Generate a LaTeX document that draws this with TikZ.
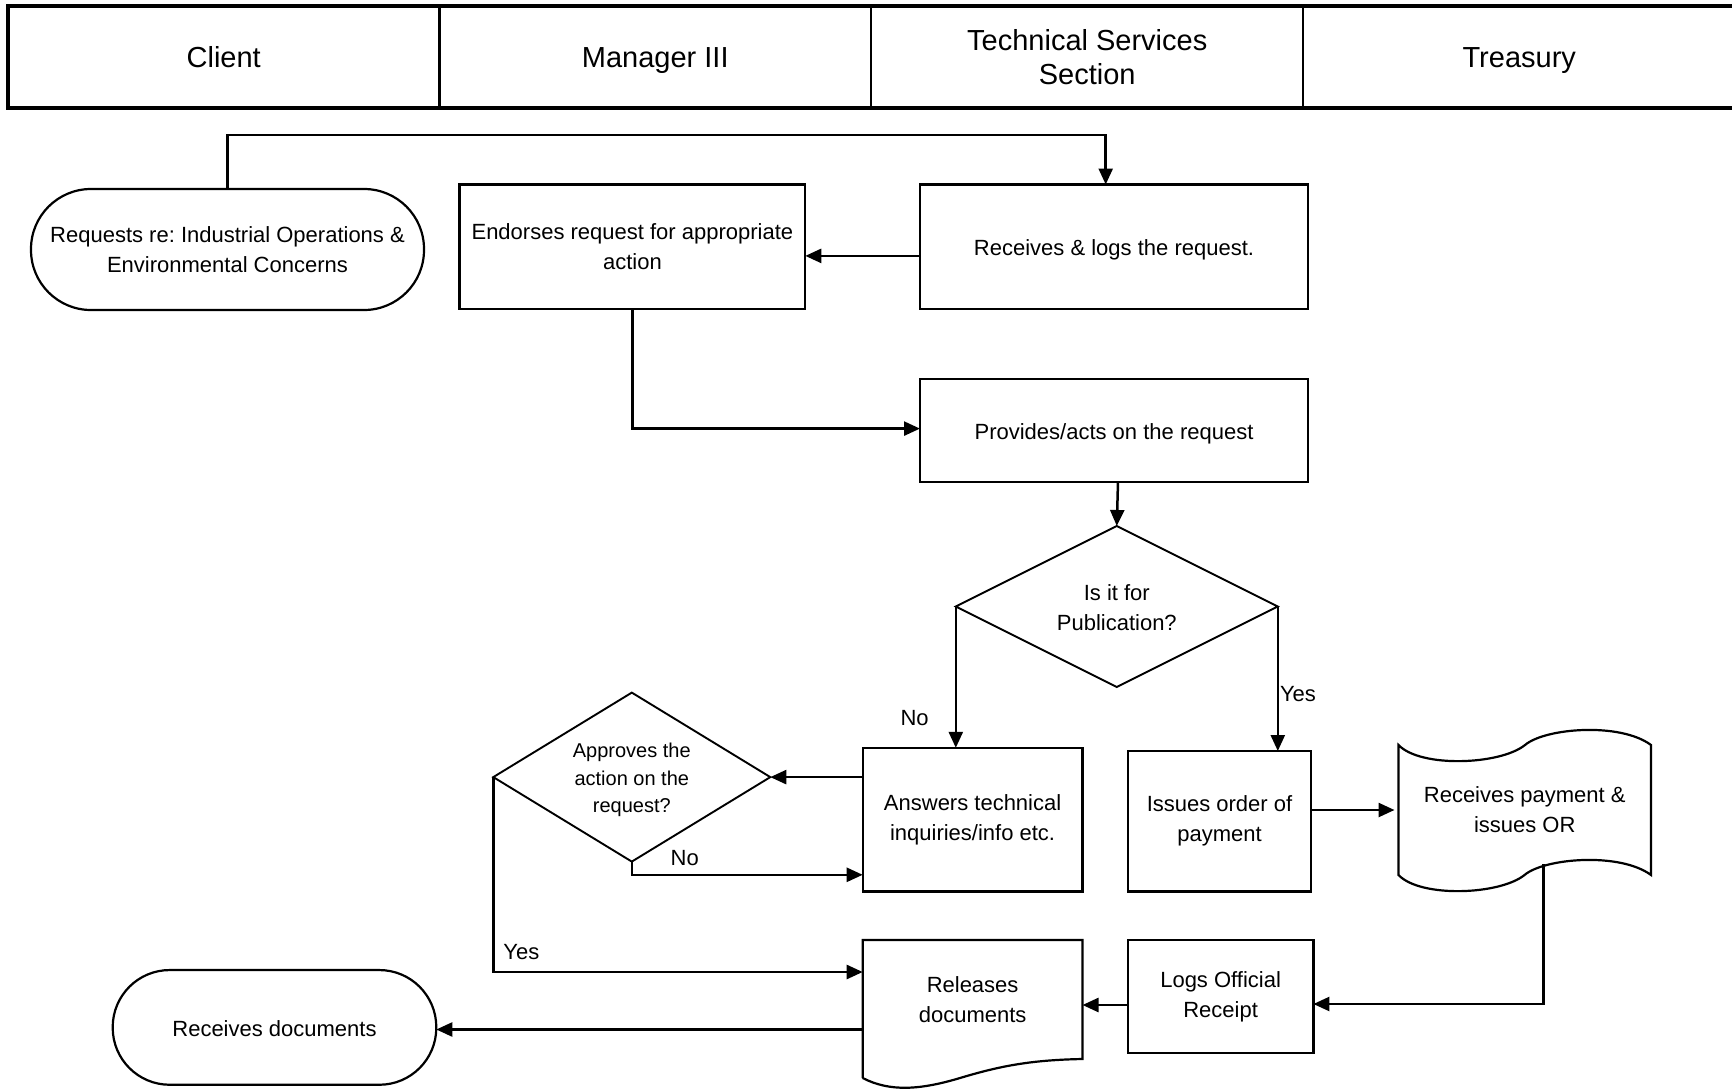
\documentclass[tikz,border=0pt]{standalone}
\usepackage{fontspec}
\setmainfont{Liberation Sans}
\frenchspacing
\usetikzlibrary{arrows.meta,shapes.geometric,calc}
\tikzset{
  every node/.style={inner sep=0pt, outer sep=0pt},
  lw/.style={line width=2.2pt},
  nodetext/.style={font=\fontsize{22}{30}\selectfont, align=center},
  oneline/.style={text height=19pt, text depth=1.5pt},
  hcell/.style={draw, line width=2.2pt, minimum width=432pt, minimum height=102.5pt, font=\fontsize{29}{34}\selectfont, align=center},
  honeline/.style={text height=23pt, text depth=1.4pt},
  procbox/.style={draw, lw, rectangle, nodetext},
  term/.style={draw, lw, rectangle, rounded corners=57pt, nodetext},
  decision/.style={draw, line width=1.9pt, diamond, inner sep=0pt},
  arr/.style={line width=2.5pt, -{Triangle[length=16pt,width=14pt]}},
  lbl/.style={font=\fontsize{22}{26}\selectfont}
}
\begin{document}
\begin{tikzpicture}[x=1pt,y=-1pt]
\useasboundingbox (0,0) rectangle (1732,1089);
% header
\node[hcell, honeline] (h1) at (223.75,57) {Client};
\node[hcell, honeline] (h2) at (655.25,57) {Manager III};
\node[hcell] (h3) at (1087.25,57) {Technical Services\\Section};
\node[hcell, honeline] (h4) at (1519.25,57) {Treasury};
\draw[line width=3.8pt] (h1.north west) rectangle (h4.south east);

% nodes
\node[term, minimum width=393pt, minimum height=121pt, rounded corners=60pt] (req) at (227.5,249.5) {Requests re: Industrial Operations \&\\Environmental Concerns};
\node[procbox, minimum width=345.8pt, minimum height=124.8pt] (endorse) at (632.4,246.9) {Endorses request for appropriate\\action};
\node[procbox, oneline, minimum width=388pt, minimum height=124.8pt] (reclog) at (1114,246.9) {Receives \& logs the request.};
\node[procbox, oneline, minimum width=388pt, minimum height=102.6pt] (prov) at (1114,430.3) {Provides/acts on the request};
\node[decision, minimum width=322pt, minimum height=161pt] (dia1) at (1116.8,606.5) {};
\node[nodetext] (dia1t) at (1116.8,608) {Is it for\\Publication?};
\node[procbox, minimum width=219.8pt, minimum height=143.6pt] (answers) at (972.6,819.6) {Answers technical\\inquiries/info etc.};
\node[procbox, minimum width=183.4pt, minimum height=140.4pt] (issues) at (1219.5,821.2) {Issues order of\\payment};
\node[decision, minimum width=277pt, minimum height=169pt] (dia2) at (631.8,777.1) {};
\node[font=\fontsize{20}{27.6}\selectfont, align=center] (dia2t) at (631.8,780) {Approves the\\action on the\\request?};
% tape (punched tape) shape
\node[nodetext, minimum width=252.5pt, minimum height=130pt] (tape) at (1524.75,810) {Receives payment \&\\issues OR};
\draw[lw] (tape.north west)
  .. controls ++(22,23) and ++(-25,20) .. ++(126.5,0)
  .. controls ++(20,-17) and ++(-31,-23) .. (tape.north east)
  -- (tape.south east)
  .. controls ++(-31,-23) and ++(20,-17) .. ++(-126.5,0)
  .. controls ++(-25,20) and ++(22,23) .. (tape.south west) -- cycle;
\node[procbox, minimum width=185.6pt, minimum height=112.7pt] (logs) at (1220.6,996.4) {Logs Official\\Receipt};
% document shape
\node[minimum width=219.8pt, minimum height=138pt] (rel) at (972.6,1009) {};
\node[nodetext] (relt) at (972.6,1000) {Releases\\documents};
\draw[lw] (rel.south west) -- (rel.north west) -- (rel.north east) -- ++(0,119)
  .. controls ++(-52,1) and ++(40,-12) .. ++(-122.5,19)
  .. controls ++(-40,12) and ++(27,14) .. (rel.south west);
\node[term, oneline, minimum width=323.6pt, minimum height=114.7pt] (recdoc) at (274.5,1027.4) {Receives documents};

% connectors
\coordinate (c1) at (1105.7,134.8);
\draw[arr] (req.north) |- (c1) -- (c1 |- reclog.north);
\draw[arr] ([yshift=-9pt]reclog.west) -- ([yshift=-9pt]endorse.east);
\draw[arr] (endorse.south) |- ([yshift=1.7pt]prov.west);
\draw[arr] ([xshift=4pt]prov.south) -- (dia1.north);
\draw[arr] (dia1.west) -- (dia1.west |- answers.north);
\draw[arr] (dia1.east) -- (dia1.east |- issues.north);
\draw[arr] (issues.east |- tape.west) -- ([xshift=-4pt]tape.west);
\coordinate (c2) at (1543.5,864);
\draw[arr] (c2) |- ([yshift=-7.6pt]logs.east);
\draw[arr] ([yshift=-8.6pt]logs.west) -- ([yshift=-8.6pt]logs.west -| rel.east);
\draw[arr] ([yshift=-20.5pt]rel.west) -- ([yshift=-20.5pt]rel.west -| recdoc.east);
\draw[arr] (answers.west |- dia2.east) -- (dia2.east);
\draw[arr] (dia2.south) |- ([yshift=-55.2pt]answers.west);
\draw[arr] (dia2.west) |- ([yshift=37pt]rel.west);

% labels
\node[lbl] (l1) at (914.6,718) {No};
\node[lbl] (l2) at (1298,693.7) {Yes};
\node[lbl] (l3) at (684.8,858.3) {No};
\node[lbl] (l4) at (521.4,952) {Yes};
\end{tikzpicture}
\end{document}
